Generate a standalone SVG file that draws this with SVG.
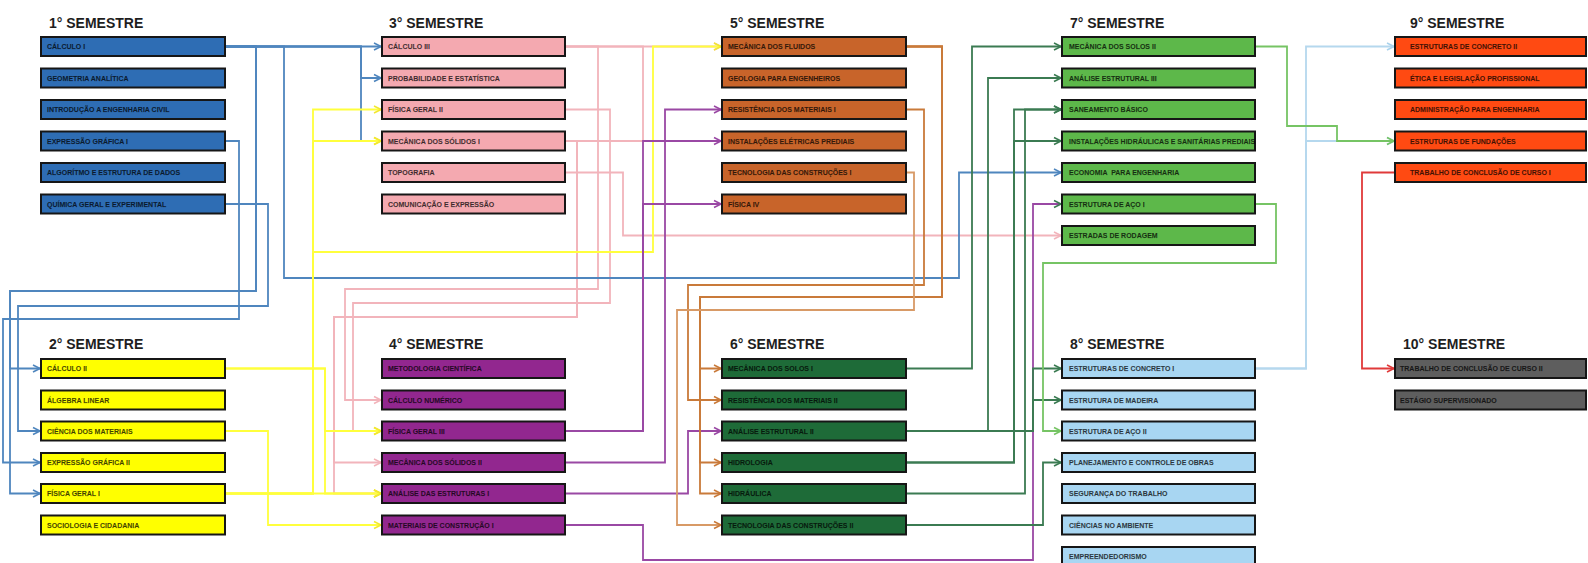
<svg xmlns="http://www.w3.org/2000/svg" width="1588" height="563" viewBox="0 0 1588 563">
<style>
.t{font-family:"Liberation Sans",Arial,sans-serif;font-weight:bold;font-size:14px;fill:#1e1e1e}
.b{stroke:#161616;stroke-width:2}
.l{font-family:"Liberation Sans",Arial,sans-serif;font-weight:bold;font-size:7px;fill:#000;fill-opacity:.72;stroke:#000;stroke-opacity:.35;stroke-width:0.25}
.s1{fill:#2E6DB4}.s2{fill:#FFFF00}.s3{fill:#F4A9B0}.s4{fill:#92278F}.s5{fill:#C8642A}
.s6{fill:#1E6B38}.s7{fill:#5DB84A}.s8{fill:#A8D6F2}.s9{fill:#FF4A12}.s10{fill:#5E5E5E}
#connectors path{fill:none;stroke-width:1.8}
.cb{stroke:#4F86BE}.cy{stroke:#FFFF3C}.cp{stroke:#F2B4BB}.cu{stroke:#9A48A4}.co{stroke:#C97A3A}
.cg{stroke:#3B7B52}.cl{stroke:#76C464}.ck{stroke:#B5D8EE}.cr{stroke:#E03A3A}
</style>
<defs>
<marker id="ab" markerUnits="userSpaceOnUse" markerWidth="10" markerHeight="10" refX="7" refY="4" orient="auto" overflow="visible"><path d="M0,0.5 L7,4 L0,7.5" fill="none" stroke="#4F86BE" stroke-width="1.6"/></marker>
<marker id="ay" markerUnits="userSpaceOnUse" markerWidth="10" markerHeight="10" refX="7" refY="4" orient="auto" overflow="visible"><path d="M0,0.5 L7,4 L0,7.5" fill="none" stroke="#F2E830" stroke-width="1.6"/></marker>
<marker id="ap" markerUnits="userSpaceOnUse" markerWidth="10" markerHeight="10" refX="7" refY="4" orient="auto" overflow="visible"><path d="M0,0.5 L7,4 L0,7.5" fill="none" stroke="#F2B4BB" stroke-width="1.6"/></marker>
<marker id="au" markerUnits="userSpaceOnUse" markerWidth="10" markerHeight="10" refX="7" refY="4" orient="auto" overflow="visible"><path d="M0,0.5 L7,4 L0,7.5" fill="none" stroke="#9A48A4" stroke-width="1.6"/></marker>
<marker id="ao" markerUnits="userSpaceOnUse" markerWidth="10" markerHeight="10" refX="7" refY="4" orient="auto" overflow="visible"><path d="M0,0.5 L7,4 L0,7.5" fill="none" stroke="#C97A3A" stroke-width="1.6"/></marker>
<marker id="ag" markerUnits="userSpaceOnUse" markerWidth="10" markerHeight="10" refX="7" refY="4" orient="auto" overflow="visible"><path d="M0,0.5 L7,4 L0,7.5" fill="none" stroke="#3B7B52" stroke-width="1.6"/></marker>
<marker id="al" markerUnits="userSpaceOnUse" markerWidth="10" markerHeight="10" refX="7" refY="4" orient="auto" overflow="visible"><path d="M0,0.5 L7,4 L0,7.5" fill="none" stroke="#76C464" stroke-width="1.6"/></marker>
<marker id="ak" markerUnits="userSpaceOnUse" markerWidth="10" markerHeight="10" refX="7" refY="4" orient="auto" overflow="visible"><path d="M0,0.5 L7,4 L0,7.5" fill="none" stroke="#A9D2EC" stroke-width="1.6"/></marker>
<marker id="ar" markerUnits="userSpaceOnUse" markerWidth="10" markerHeight="10" refX="7" refY="4" orient="auto" overflow="visible"><path d="M0,0.5 L7,4 L0,7.5" fill="none" stroke="#E03A3A" stroke-width="1.6"/></marker>
</defs>
<rect width="1588" height="563" fill="#fff"/>

<g id="connectors">
<!-- pink (3rd semester) -->
<path class="cp" marker-end="url(#ap)" d="M565,46.5 H721"/>
<path class="cp" marker-end="url(#ap)" d="M565,46.5 H598 V289 H345 V400 H381"/>
<path class="cp" d="M565,46.5 H643 V141"/>
<path class="cp" d="M565,141 H643"/>
<path class="cp" marker-end="url(#ay)" d="M565,109.5 H610 V303 H353 V431 H381"/>
<path class="cp" marker-end="url(#ap)" d="M565,141 H577 V317 H334 V462.5 H381"/>
<path class="cp" marker-end="url(#ay)" d="M565,141 H577 V317 H334 V493.5 H381"/>
<path class="cp" marker-end="url(#ap)" d="M565,172.5 H623 V235.5 H1061"/>
<!-- blue (1st semester) -->
<path class="cb" marker-end="url(#ab)" d="M225,46.5 H381"/>
<path class="cb" marker-end="url(#ab)" d="M225,46.5 H361 V78 H381"/>
<path class="cb" marker-end="url(#ay)" d="M225,46.5 H361 V141 H381"/>
<path class="cb" marker-end="url(#ab)" d="M225,46.5 H256 V291 H10 V368.5 H40"/>
<path class="cb" marker-end="url(#ab)" d="M225,46.5 H256 V291 H10 V493.5 H40"/>
<path class="cb" marker-end="url(#ab)" d="M225,46.5 H284 V278 H959 V172.5 H1061"/>
<path class="cb" marker-end="url(#ab)" d="M225,141 H239 V319 H3 V462.5 H40"/>
<path class="cb" marker-end="url(#ab)" d="M225,204 H268 V306 H18 V431 H40"/>
<!-- yellow (2nd semester) -->
<path class="cy" marker-end="url(#ay)" d="M225,493.5 H313 V109.5 H381"/>
<path class="cy" marker-end="url(#ay)" d="M225,493.5 H313 V141 H381"/>
<path class="cy" marker-end="url(#ay)" d="M225,493.5 H313 V252 H653 V46.5 H721"/>
<path class="cy" marker-end="url(#ay)" d="M225,493.5 H381"/>
<path class="cy" marker-end="url(#ay)" d="M225,368.5 H325 V431 H381"/>
<path class="cy" marker-end="url(#ay)" d="M225,368.5 H325 V493.5 H381"/>
<path class="cy" marker-end="url(#ay)" d="M225,431 H268 V525 H381"/>
<!-- purple (4th semester) -->
<path class="cu" marker-end="url(#au)" d="M565,431 H643 V141 H721"/>
<path class="cu" marker-end="url(#au)" d="M565,431 H643 V204 H721"/>
<path class="cu" marker-end="url(#au)" d="M565,462.5 H665 V109.5 H721"/>
<path class="cu" marker-end="url(#au)" d="M565,493.5 H688 V431 H721"/>
<path class="cu" marker-end="url(#ag)" d="M565,525 H643 V560 H1033 V204 H1061"/>
<!-- orange (5th semester) -->
<path class="co" marker-end="url(#ao)" d="M906,46.5 H942 V297 H700 V368.5 H721"/>
<path class="co" marker-end="url(#ao)" d="M906,46.5 H942 V297 H700 V462.5 H721"/>
<path class="co" marker-end="url(#ao)" d="M906,46.5 H942 V297 H700 V493.5 H721"/>
<path class="co" marker-end="url(#ao)" d="M906,109.5 H924 V285 H688 V400 H721"/>
<path class="co" style="stroke:#D89A66" marker-end="url(#ao)" d="M906,172.5 H914 V310 H677 V525 H721"/>
<!-- dark green (6th semester) -->
<path class="cg" marker-end="url(#ag)" d="M906,368.5 H972 V46.5 H1061"/>
<path class="cg" marker-end="url(#ag)" d="M906,431 H988 V78 H1061"/>
<path class="cg" marker-end="url(#ag)" d="M906,431 H1033 V368.5 H1061"/>
<path class="cg" marker-end="url(#ag)" d="M906,431 H1033 V400 H1061"/>
<path class="cg" marker-end="url(#ag)" d="M906,462.5 H1014 V109.5 H1061"/>
<path class="cg" marker-end="url(#ag)" d="M906,462.5 H1014 V141 H1061"/>
<path class="cg" marker-end="url(#ag)" d="M906,493.5 H1025 V109.5 H1061"/>
<path class="cg" marker-end="url(#ag)" d="M906,525 H1043 V462.5 H1061"/>
<!-- light blue (8th semester) -->
<path class="ck" marker-end="url(#ak)" d="M1255,368.5 H1306 V46.5 H1394"/>
<path class="ck" marker-end="url(#ak)" d="M1255,368.5 H1306 V141 H1394"/>
<!-- green (7th semester) -->
<path class="cl" marker-end="url(#al)" d="M1255,46.5 H1287 V126 H1337 V141 H1394"/>
<path class="cl" marker-end="url(#al)" d="M1255,204 H1276 V263 H1043 V431 H1061"/>
<!-- red (9th semester) -->
<path class="cr" marker-end="url(#ar)" d="M1395,172.5 H1362 V368.5 H1394"/>
</g>

<g id="titles">
<text class="t" x="49" y="28">1° SEMESTRE</text>
<text class="t" x="389" y="28">3° SEMESTRE</text>
<text class="t" x="730" y="28">5° SEMESTRE</text>
<text class="t" x="1070" y="28">7° SEMESTRE</text>
<text class="t" x="1410" y="28">9° SEMESTRE</text>
<text class="t" x="49" y="349">2° SEMESTRE</text>
<text class="t" x="389" y="349">4° SEMESTRE</text>
<text class="t" x="730" y="349">6° SEMESTRE</text>
<text class="t" x="1070" y="349">8° SEMESTRE</text>
<text class="t" x="1403" y="349">10° SEMESTRE</text>
</g>

<!-- 1st semester -->
<g id="s1-calculo1"><rect class="b s1" x="41" y="37" width="184" height="19"/><text class="l" x="47" y="49">CÁLCULO I</text></g>
<g id="s1-geometria"><rect class="b s1" x="41" y="68.5" width="184" height="19"/><text class="l" x="47" y="80.5">GEOMETRIA ANALÍTICA</text></g>
<g id="s1-introducao"><rect class="b s1" x="41" y="100" width="184" height="19"/><text class="l" x="47" y="112">INTRODUÇÃO A ENGENHARIA CIVIL</text></g>
<g id="s1-expressao1"><rect class="b s1" x="41" y="131.5" width="184" height="19"/><text class="l" x="47" y="143.5">EXPRESSÃO GRÁFICA I</text></g>
<g id="s1-algoritmo"><rect class="b s1" x="41" y="163" width="184" height="19"/><text class="l" x="47" y="175">ALGORÍTMO E ESTRUTURA DE DADOS</text></g>
<g id="s1-quimica"><rect class="b s1" x="41" y="194.5" width="184" height="19"/><text class="l" x="47" y="206.5">QUÍMICA GERAL E EXPERIMENTAL</text></g>

<!-- 2nd semester -->
<g id="s2-calculo2"><rect class="b s2" x="41" y="359" width="184" height="19"/><text class="l" x="47" y="371">CÁLCULO II</text></g>
<g id="s2-algebra"><rect class="b s2" x="41" y="390.5" width="184" height="19"/><text class="l" x="47" y="402.5">ÁLGEBRA LINEAR</text></g>
<g id="s2-ciencia"><rect class="b s2" x="41" y="421.5" width="184" height="19"/><text class="l" x="47" y="433.5">CIÊNCIA DOS MATERIAIS</text></g>
<g id="s2-expressao2"><rect class="b s2" x="41" y="453" width="184" height="19"/><text class="l" x="47" y="465">EXPRESSÃO GRÁFICA II</text></g>
<g id="s2-fisica1"><rect class="b s2" x="41" y="484" width="184" height="19"/><text class="l" x="47" y="496">FÍSICA GERAL I</text></g>
<g id="s2-sociologia"><rect class="b s2" x="41" y="515.5" width="184" height="19"/><text class="l" x="47" y="527.5">SOCIOLOGIA E CIDADANIA</text></g>

<!-- 3rd semester -->
<g id="s3-calculo3"><rect class="b s3" x="382" y="37" width="183" height="19"/><text class="l" x="388" y="49">CÁLCULO III</text></g>
<g id="s3-probabilidade"><rect class="b s3" x="382" y="68.5" width="183" height="19"/><text class="l" x="388" y="80.5">PROBABILIDADE E ESTATÍSTICA</text></g>
<g id="s3-fisica2"><rect class="b s3" x="382" y="100" width="183" height="19"/><text class="l" x="388" y="112">FÍSICA GERAL II</text></g>
<g id="s3-mecsolidos1"><rect class="b s3" x="382" y="131.5" width="183" height="19"/><text class="l" x="388" y="143.5">MECÂNICA DOS SÓLIDOS I</text></g>
<g id="s3-topografia"><rect class="b s3" x="382" y="163" width="183" height="19"/><text class="l" x="388" y="175">TOPOGRAFIA</text></g>
<g id="s3-comunicacao"><rect class="b s3" x="382" y="194.5" width="183" height="19"/><text class="l" x="388" y="206.5">COMUNICAÇÃO E EXPRESSÃO</text></g>

<!-- 4th semester -->
<g id="s4-metodologia"><rect class="b s4" x="382" y="359" width="183" height="19"/><text class="l" x="388" y="371">METODOLOGIA CIENTÍFICA</text></g>
<g id="s4-calcnum"><rect class="b s4" x="382" y="390.5" width="183" height="19"/><text class="l" x="388" y="402.5">CÁLCULO NUMÉRICO</text></g>
<g id="s4-fisica3"><rect class="b s4" x="382" y="421.5" width="183" height="19"/><text class="l" x="388" y="433.5">FÍSICA GERAL III</text></g>
<g id="s4-mecsolidos2"><rect class="b s4" x="382" y="453" width="183" height="19"/><text class="l" x="388" y="465">MECÂNICA DOS SÓLIDOS II</text></g>
<g id="s4-analise1"><rect class="b s4" x="382" y="484" width="183" height="19"/><text class="l" x="388" y="496">ANÁLISE DAS ESTRUTURAS I</text></g>
<g id="s4-materiais1"><rect class="b s4" x="382" y="515.5" width="183" height="19"/><text class="l" x="388" y="527.5">MATERIAIS DE CONSTRUÇÃO I</text></g>

<!-- 5th semester -->
<g id="s5-fluidos"><rect class="b s5" x="722" y="37" width="184" height="19"/><text class="l" x="728" y="49">MECÂNICA DOS FLUIDOS</text></g>
<g id="s5-geologia"><rect class="b s5" x="722" y="68.5" width="184" height="19"/><text class="l" x="728" y="80.5">GEOLOGIA PARA ENGENHEIROS</text></g>
<g id="s5-resmat1"><rect class="b s5" x="722" y="100" width="184" height="19"/><text class="l" x="728" y="112">RESISTÊNCIA DOS MATERIAIS I</text></g>
<g id="s5-eletricas"><rect class="b s5" x="722" y="131.5" width="184" height="19"/><text class="l" x="728" y="143.5">INSTALAÇÕES ELÉTRICAS PREDIAIS</text></g>
<g id="s5-tecnologia1"><rect class="b s5" x="722" y="163" width="184" height="19"/><text class="l" x="728" y="175">TECNOLOGIA DAS CONSTRUÇÕES I</text></g>
<g id="s5-fisica4"><rect class="b s5" x="722" y="194.5" width="184" height="19"/><text class="l" x="728" y="206.5">FÍSICA IV</text></g>

<!-- 6th semester -->
<g id="s6-solos1"><rect class="b s6" x="722" y="359" width="184" height="19"/><text class="l" x="728" y="371">MECÂNICA DOS SOLOS I</text></g>
<g id="s6-resmat2"><rect class="b s6" x="722" y="390.5" width="184" height="19"/><text class="l" x="728" y="402.5">RESISTÊNCIA DOS MATERIAIS II</text></g>
<g id="s6-analise2"><rect class="b s6" x="722" y="421.5" width="184" height="19"/><text class="l" x="728" y="433.5">ANÁLISE ESTRUTURAL II</text></g>
<g id="s6-hidrologia"><rect class="b s6" x="722" y="453" width="184" height="19"/><text class="l" x="728" y="465">HIDROLOGIA</text></g>
<g id="s6-hidraulica"><rect class="b s6" x="722" y="484" width="184" height="19"/><text class="l" x="728" y="496">HIDRÁULICA</text></g>
<g id="s6-tecnologia2"><rect class="b s6" x="722" y="515.5" width="184" height="19"/><text class="l" x="728" y="527.5">TECNOLOGIA DAS CONSTRUÇÕES II</text></g>

<!-- 7th semester -->
<g id="s7-solos2"><rect class="b s7" x="1062" y="37" width="193" height="19"/><text class="l" x="1069" y="49">MECÂNICA DOS SOLOS II</text></g>
<g id="s7-analise3"><rect class="b s7" x="1062" y="68.5" width="193" height="19"/><text class="l" x="1069" y="80.5">ANÁLISE ESTRUTURAL III</text></g>
<g id="s7-saneamento"><rect class="b s7" x="1062" y="100" width="193" height="19"/><text class="l" x="1069" y="112">SANEAMENTO BÁSICO</text></g>
<g id="s7-hidrosanitarias"><rect class="b s7" x="1062" y="131.5" width="193" height="19"/><text class="l" x="1069" y="143.5">INSTALAÇÕES HIDRÁULICAS E SANITÁRIAS PREDIAIS</text></g>
<g id="s7-economia"><rect class="b s7" x="1062" y="163" width="193" height="19"/><text class="l" x="1069" y="175" xml:space="preserve">ECONOMIA  PARA ENGENHARIA</text></g>
<g id="s7-aco1"><rect class="b s7" x="1062" y="194.5" width="193" height="19"/><text class="l" x="1069" y="206.5">ESTRUTURA DE AÇO I</text></g>
<g id="s7-estradas"><rect class="b s7" x="1062" y="226" width="193" height="19"/><text class="l" x="1069" y="238">ESTRADAS DE RODAGEM</text></g>

<!-- 8th semester -->
<g id="s8-concreto1"><rect class="b s8" x="1062" y="359" width="193" height="19"/><text class="l" x="1069" y="371">ESTRUTURAS DE CONCRETO I</text></g>
<g id="s8-madeira"><rect class="b s8" x="1062" y="390.5" width="193" height="19"/><text class="l" x="1069" y="402.5">ESTRUTURA DE MADEIRA</text></g>
<g id="s8-aco2"><rect class="b s8" x="1062" y="421.5" width="193" height="19"/><text class="l" x="1069" y="433.5">ESTRUTURA DE AÇO II</text></g>
<g id="s8-planejamento"><rect class="b s8" x="1062" y="453" width="193" height="19"/><text class="l" x="1069" y="465">PLANEJAMENTO E CONTROLE DE OBRAS</text></g>
<g id="s8-seguranca"><rect class="b s8" x="1062" y="484" width="193" height="19"/><text class="l" x="1069" y="496">SEGURANÇA DO TRABALHO</text></g>
<g id="s8-ciencias"><rect class="b s8" x="1062" y="515.5" width="193" height="19"/><text class="l" x="1069" y="527.5">CIÊNCIAS NO AMBIENTE</text></g>
<g id="s8-empreendedorismo"><rect class="b s8" x="1062" y="547" width="193" height="19"/><text class="l" x="1069" y="559">EMPREENDEDORISMO</text></g>

<!-- 9th semester -->
<g id="s9-concreto2"><rect class="b s9" x="1395" y="37" width="191" height="19"/><text class="l" x="1410" y="49">ESTRUTURAS DE CONCRETO II</text></g>
<g id="s9-etica"><rect class="b s9" x="1395" y="68.5" width="191" height="19"/><text class="l" x="1410" y="80.5">ÉTICA E LEGISLAÇÃO PROFISSIONAL</text></g>
<g id="s9-administracao"><rect class="b s9" x="1395" y="100" width="191" height="19"/><text class="l" x="1410" y="112">ADMINISTRAÇÃO PARA ENGENHARIA</text></g>
<g id="s9-fundacoes"><rect class="b s9" x="1395" y="131.5" width="191" height="19"/><text class="l" x="1410" y="143.5">ESTRUTURAS DE FUNDAÇÕES</text></g>
<g id="s9-tcc1"><rect class="b s9" x="1395" y="163" width="191" height="19"/><text class="l" x="1410" y="175">TRABALHO DE CONCLUSÃO DE CURSO I</text></g>

<!-- 10th semester -->
<g id="s10-tcc2"><rect class="b s10" x="1395" y="359" width="191" height="19"/><text class="l" x="1400" y="371">TRABALHO DE CONCLUSÃO DE CURSO II</text></g>
<g id="s10-estagio"><rect class="b s10" x="1395" y="390.5" width="191" height="19"/><text class="l" x="1400" y="402.5">ESTÁGIO SUPERVISIONADO</text></g>
</svg>
